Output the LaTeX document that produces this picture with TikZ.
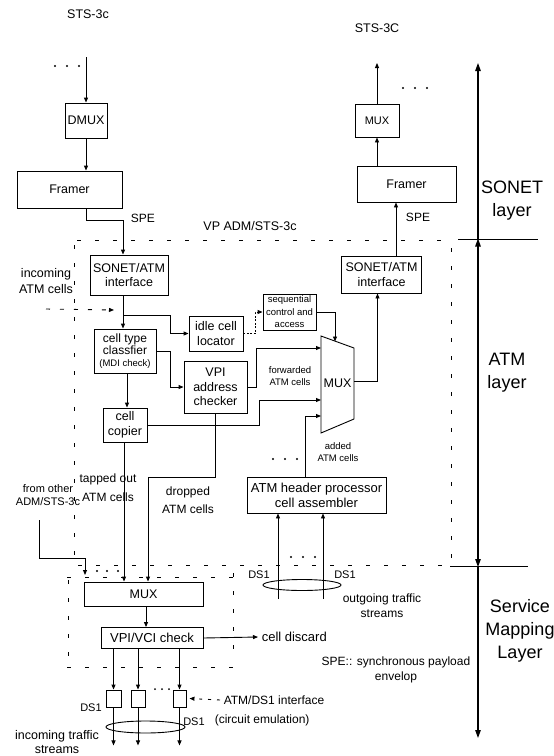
\documentclass[tikz,border=0pt]{standalone}
\usepackage{fontspec}
\setmainfont{Liberation Sans}
\usetikzlibrary{arrows.meta}
\begin{document}
\begin{tikzpicture}[x=1pt,y=-1pt,line width=0.9pt,
  box/.style={draw,inner sep=0pt,align=center},
  arr/.style={-{Triangle[length=5pt,width=4pt]}},
  bigarr/.style={line width=1.2pt,-{Triangle[length=8pt,width=5.5pt]}},
  bigarrb/.style={line width=1.2pt,{Triangle[length=8pt,width=5.5pt]}-{Triangle[length=8pt,width=5.5pt]}},
  dsh/.style={dash pattern=on 4pt off 14pt},
  lbl/.style={align=center,inner sep=1pt},
  f9/.style={font=\fontsize{9.5}{12.5}\selectfont},
  f10/.style={font=\fontsize{11}{12.5}\selectfont},
  f11/.style={font=\fontsize{12}{15}\selectfont},
  f12/.style={font=\fontsize{12.5}{14.5}\selectfont},
  f17/.style={font=\fontsize{18}{23}\selectfont},
  dot/.style={circle,fill,inner sep=0pt,minimum size=2.4pt}
]
\useasboundingbox (0,0) rectangle (554,756);

% ---------------- SONET layer, left ----------------
\node[f12] (stsl) at (88,14) {STS-3c};
\coordinate (inL) at (87,57);
\foreach \x in {55,67,79} \node[dot] at (\x,66) {};
\node[box,f12,minimum width=42pt,minimum height=35pt] (dmux) at (86,120.5) {DMUX};
\draw[arr] (dmux.north |- inL) -- (dmux.north);
\node[box,f12,minimum width=105pt,minimum height=37pt] (frL) at (69.5,189.5) {Framer};
\draw[arr] (dmux.south) -- (dmux.south |- frL.north);
\node[f11,anchor=west] (speL) at (127,218) {SPE};

% ---------------- SONET layer, right ----------------
\node[f12] (stsr) at (377,28) {STS-3C};
\coordinate (outR) at (377,63);
\foreach \x in {403,415,427} \node[dot] at (\x,88) {};
\node[box,f10,minimum width=44pt,minimum height=33pt] (muxT) at (377,120.5) {MUX};
\draw[arr] (muxT.north) -- (outR);
\node[box,f12,minimum width=99pt,minimum height=36pt] (frR) at (406.5,184) {Framer};
\draw[arr] (muxT.south |- frR.north) -- (muxT.south);
\node[f11] (speR) at (418,217) {SPE};

\node[f12] (vpadm) at (250,226) {VP ADM/STS-3c};

% ---------------- ATM layer ----------------
\node[box,f12,minimum width=78pt,minimum height=40pt] (ifL) at (129,275) {SONET/ATM\\interface};
\draw[arr] (dmux.south |- frL.south) -- ++(0,12) -| ([xshift=-6pt]ifL.north);
\node[box,f12,minimum width=80pt,minimum height=37pt] (ifR) at (381.5,274.5) {SONET/ATM\\interface};
\draw[arr] ([xshift=14.5pt]ifR.north) -- ([xshift=14.5pt]ifR.north |- frR.south);

\node[lbl,f12] (incL) at (46,281) {incoming\\[1.5pt]ATM cells};
\coordinate (inc) at (46,309);
\coordinate (incE) at (114,310);
\draw[arr,dash pattern=on 4pt off 10pt] (inc) -- (incE);

\node[box,minimum width=62pt,minimum height=44pt] (cls) at (125,351)
  {\fontsize{12}{14}\selectfont cell type\\\fontsize{12}{14}\selectfont classfier\\\fontsize{9.5}{13}\selectfont (MDI check)};
\draw[arr] ([xshift=-6pt]ifL.south) -- ([xshift=-2pt]cls.north);

\node[box,f12,minimum width=54pt,minimum height=35pt] (idle) at (216,333.5) {idle cell\\locator};
\coordinate (br) at (123,315);
\draw[arr] (br) -| ([xshift=-18pt]idle.west) -- (idle.west);

\node[box,f9,minimum width=53pt,minimum height=36pt] (seq) at (289.5,312) {sequential\\control and\\access};
\draw[arr,dash pattern=on 2pt off 1.5pt] (idle.east) -- ++(12,0) |- (seq.west);

% MUX trapezoid
\coordinate (m1) at (321,336);
\coordinate (m2) at (354,348);
\coordinate (m3) at (354,419);
\coordinate (m4) at (321,433);
\draw (m1) -- (m2) -- (m3) -- (m4) -- cycle;
\node[f12] (mux) at (337.5,383) {MUX};
\coordinate (mT) at (335,341.5);
\coordinate (mIn1) at (321,348);
\coordinate (mIn2) at (321,400);
\coordinate (mIn3) at (321,416);
\coordinate (mOut) at (354,381);
\draw[arr] (seq.east) -| (mT);
\draw[arr] (mOut) -| ([xshift=-4pt]ifR.south);

\node[box,f12,minimum width=63pt,minimum height=52pt] (vpi) at (215.5,387) {VPI\\address\\checker};
\draw[arr] (cls.east) -- ++(14,0) |- (vpi.west);
\draw[arr] (vpi.east) -- ++(9,0) |- (mIn1);
\node[lbl,f9] (fwd) at (290,376) {forwarded\\ATM cells};

\node[box,f12,minimum width=44pt,minimum height=34pt] (cop) at (125,425) {cell\\copier};
\draw[arr] ([xshift=2pt]cls.south) -- ([xshift=2pt]cls.south |- cop.north);
\draw[arr] (cop.east) -- ++(112,0) |- (mIn2);

\node[box,minimum width=139pt,minimum height=36pt,font=\fontsize{13}{15}\selectfont] (hdr) at (316.5,495) {ATM header processor\\cell assembler};
\draw[arr] ([xshift=-11.5pt]hdr.north) |- (mIn3);
\node[lbl,f9] (add) at (338,452) {added\\ATM cells};
\foreach \x in {273,285,297} \node[dot] at (\x,459) {};

% ---------------- layer axis ----------------
\coordinate (ax1) at (478,63);
\coordinate (ax2) at (478,239.5);
\coordinate (ax3) at (478,566);
\coordinate (ax4) at (478,738);
\draw[bigarr] (ax2) -- (ax1);
\draw[bigarrb] ([yshift=-1pt]ax3) -- ([yshift=1pt]ax2);
\draw[bigarr] (ax3) -- (ax4);
\draw (458,239.5) -- (538,239.5);
\draw (450,566) -- (528,566);
\node[lbl,f17] (sonet) at (512,201) {SONET\\layer};
\node[lbl,f17] (atm) at (507,373) {ATM\\layer};
\node[lbl,f17] (sml) at (520,631) {Service\\Mapping\\Layer};

% VP ADM dashed box
\draw[dsh] (77,240) -- (450,240);
\draw[dsh] (74,245) -- (74,556);
\draw[dsh] (451,248) -- (451,562);
\draw[dsh] (78,565) -- (450,565);

% ---------------- service mapping layer ----------------
\node[box,f12,minimum width=119pt,minimum height=24pt] (mb) at (143.5,594) {MUX};
\draw[arr] ([xshift=-1pt]cop.south) -- ([xshift=-1pt]cop.south |- mb.north);
\node[lbl,f11] (tap) at (108,488) {tapped out\\[4pt]ATM cells};
\draw[arr] (vpi.south) -- ++(0,64) -| ([xshift=4.5pt]mb.north);
\node[lbl,f11] (drop) at (188,500) {dropped\\[3pt]ATM cells};

\node[lbl,f10] (from) at (48,495) {from other\\ADM/STS-3c};
\coordinate (fo) at (39,520);
\coordinate (foE) at (85,575);
\draw[arr] (fo) -- (39,558) -| (foE);
\foreach \x in {97,107,118} \node[dot] at (\x,571) {};

% small dashed box
\draw[dsh] (67,577) -- (233,577);
\draw[dsh] (68,580) -- (68,667);
\draw[dsh] (233,573) -- (233,662);
\draw[dsh] (67,667) -- (233,667);

\node[box,minimum width=102pt,minimum height=21pt,font=\fontsize{13}{15}\selectfont] (vv) at (152,638) {VPI/VCI check};
\draw[arr] ([xshift=2.5pt]mb.south) -- ([xshift=2.5pt]mb.south |- vv.north);
\node[anchor=west,font=\fontsize{13}{15}\selectfont] (dis) at (258,637) {cell discard};
\draw[arr] (vv.east) -- (dis.west);

\node[box,minimum width=15pt,minimum height=17pt] (s1) at (113.5,698.5) {};
\node[box,minimum width=14pt,minimum height=17pt] (s2) at (138,698.5) {};
\node[box,minimum width=13pt,minimum height=17pt] (s3) at (179.5,698.5) {};
\foreach \n in {s1,s2,s3} {
  \draw[arr] (\n.north |- vv.south) -- (\n.north);
  \draw[arr] (\n.south) -- ++(0,38);
}
\foreach \x in {155,162,169} \node[dot,minimum size=2pt] at (\x,689) {};
\draw (145.5,727) ellipse [x radius=39.5pt, y radius=6pt];
\node[f10] (ds1a) at (91,708) {DS1};
\node[f10] (ds1b) at (194,722) {DS1};
\node[lbl,f12] (incT) at (57,742) {incoming traffic\\streams};

\node[anchor=west,f11] (atmds) at (220,700) {ATM/DS1 interface};
\node[anchor=west,f11] (circ) at (211,720) {(circuit emulation)};
\draw[arr,dash pattern=on 3pt off 6pt] (atmds.west) -- ([xshift=3pt]s3.east);

% outgoing
\coordinate (o1) at (278,599);
\coordinate (o2) at (323,599);
\draw[arr] (o1) -- (o1 |- hdr.south);
\draw[arr] (o2) -- (o2 |- hdr.south);
\foreach \x in {291,303,315} \node[dot] at (\x,557) {};
\draw (302,585) ellipse [x radius=39pt, y radius=5.5pt];
\node[f10] (ds1c) at (259,575) {DS1};
\node[f10] (ds1d) at (345,575) {DS1};
\node[lbl,f11] (outT) at (382,606) {outgoing traffic\\streams};

\node[lbl,f11] (spedef) at (396,670) {SPE:: synchronous payload\\envelop};
\end{tikzpicture}
\end{document}
